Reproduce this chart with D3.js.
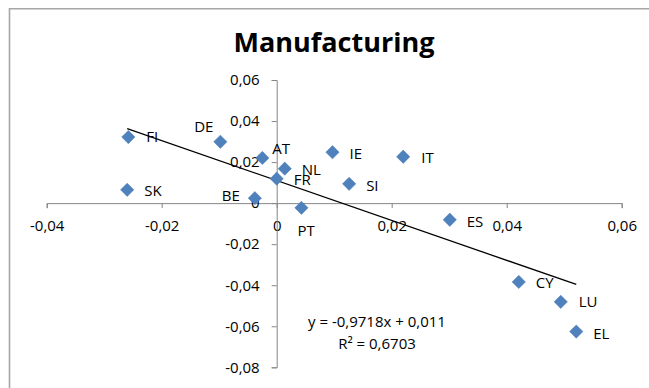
<!DOCTYPE html>
<html><head><meta charset="utf-8">
<script src="https://cdn.jsdelivr.net/npm/d3@7"></script>
<style>
html,body{margin:0;padding:0;background:#fff;}
svg{display:block;font-family:"Open Sans",sans-serif;}
</style></head>
<body><svg id="c" width="649" height="388"></svg>
<script>
const countries = ["FI","SK","DE","AT","NL","FR","BE","PT","IE","IT","SI","ES","CY","LU","EL"];
const xValues = [-0.0258,-0.0260,-0.0098,-0.0025,0.0014,0.0000,-0.0038,0.0043,0.0097,0.0220,0.0126,0.0301,0.0421,0.0494,0.0521];
const yValues = [0.0322,0.0065,0.0299,0.0220,0.0168,0.0119,0.0024,-0.0023,0.0248,0.0226,0.0094,-0.0081,-0.0384,-0.0481,-0.0626];
const xTicks = [-0.04,-0.02,0,0.02,0.04,0.06];
const yTicks = [-0.08,-0.06,-0.04,-0.02,0,0.02,0.04,0.06];
const slope = -0.9718, intercept = 0.011;
const eqText = "y = -0,9718x + 0,011";
const r2Text = "R² = 0,6703";
const title = "Manufacturing";

// label placement (layout only)
const labelPos = {
  FI:[18,0,"start"], SK:[17,1,"start"], DE:[-7,-15,"end"], AT:[10,-9,"start"],
  NL:[17,1,"start"], FR:[17,1,"start"], BE:[-15,-3,"end"], PT:[-4,23,"start"],
  IE:[17,1,"start"], IT:[18,1,"start"], SI:[17,2,"start"], ES:[17,2,"start"],
  CY:[17,1,"start"], LU:[18,0,"start"], EL:[17,2,"start"]
};

const svg = d3.select("#c");
const fmt = v => v === 0 ? "0" : d3.format(".2f")(v).replace("−","-").replace(".", ",");

// frame
svg.append("path").attr("d","M9.5,400 V8.8 H660").attr("fill","none")
  .attr("stroke","#a6a6a6").attr("stroke-width",1.6);

svg.append("text").attr("x",334).attr("y",52).attr("text-anchor","middle")
  .attr("font-weight","bold").attr("font-size",27).attr("fill","#000").text(title);

const x = d3.scaleLinear().domain([-0.04,0.06]).range([46.7,621.7]);
const y = d3.scaleLinear().domain([-0.08,0.06]).range([367.3,80]);

const axColor = "#868686";
// x axis at y=0
const gx = svg.append("g").attr("transform",`translate(0,${y(0)})`)
  .call(d3.axisBottom(x).tickValues(xTicks).tickFormat(fmt).tickSize(5).tickPadding(9));
// y axis at x=0
const gy = svg.append("g").attr("transform",`translate(${x(0)},0)`)
  .call(d3.axisLeft(y).tickValues(yTicks).tickFormat(fmt).tickSize(5).tickPadding(12));
[gx,gy].forEach(g=>{
  g.select(".domain").attr("stroke",axColor).attr("stroke-width",1);
  g.selectAll(".tick line").attr("stroke",axColor);
  g.selectAll(".tick text").attr("font-family","Open Sans").attr("font-size",15).attr("fill","#000");
});
gx.selectAll(".tick text").attr("dy","0.9em");

const data = countries.map((c,i)=>({c, x:xValues[i], y:yValues[i]}));

// trendline
const xmin = d3.min(xValues), xmax = d3.max(xValues);
svg.append("line")
  .attr("x1",x(xmin)).attr("y1",y(slope*xmin+intercept))
  .attr("x2",x(xmax)).attr("y2",y(slope*xmax+intercept))
  .attr("stroke","#000").attr("stroke-width",1.3);

// markers
const sym = d3.symbol().type(d3.symbolSquare).size(88);
svg.append("g").selectAll("path").data(data).join("path")
  .attr("d",sym)
  .attr("transform",d=>`translate(${x(d.x)},${y(d.y)}) rotate(45)`)
  .attr("fill","#4F81BD").attr("stroke","#4a7ab5").attr("stroke-width",0.5);

// labels
svg.append("g").selectAll("text").data(data).join("text")
  .attr("x",d=>x(d.x)+labelPos[d.c][0])
  .attr("y",d=>y(d.y)+labelPos[d.c][1])
  .attr("dy","0.36em")
  .attr("text-anchor",d=>labelPos[d.c][2])
  .attr("font-size",15).attr("fill","#000").text(d=>d.c);

// equation
svg.append("text").attr("x",377).attr("y",322).attr("dy","0.36em").attr("text-anchor","middle")
  .attr("font-size",15).text(eqText);
svg.append("text").attr("x",377).attr("y",344).attr("dy","0.36em").attr("text-anchor","middle")
  .attr("font-size",15).text(r2Text);
</script></body></html>
